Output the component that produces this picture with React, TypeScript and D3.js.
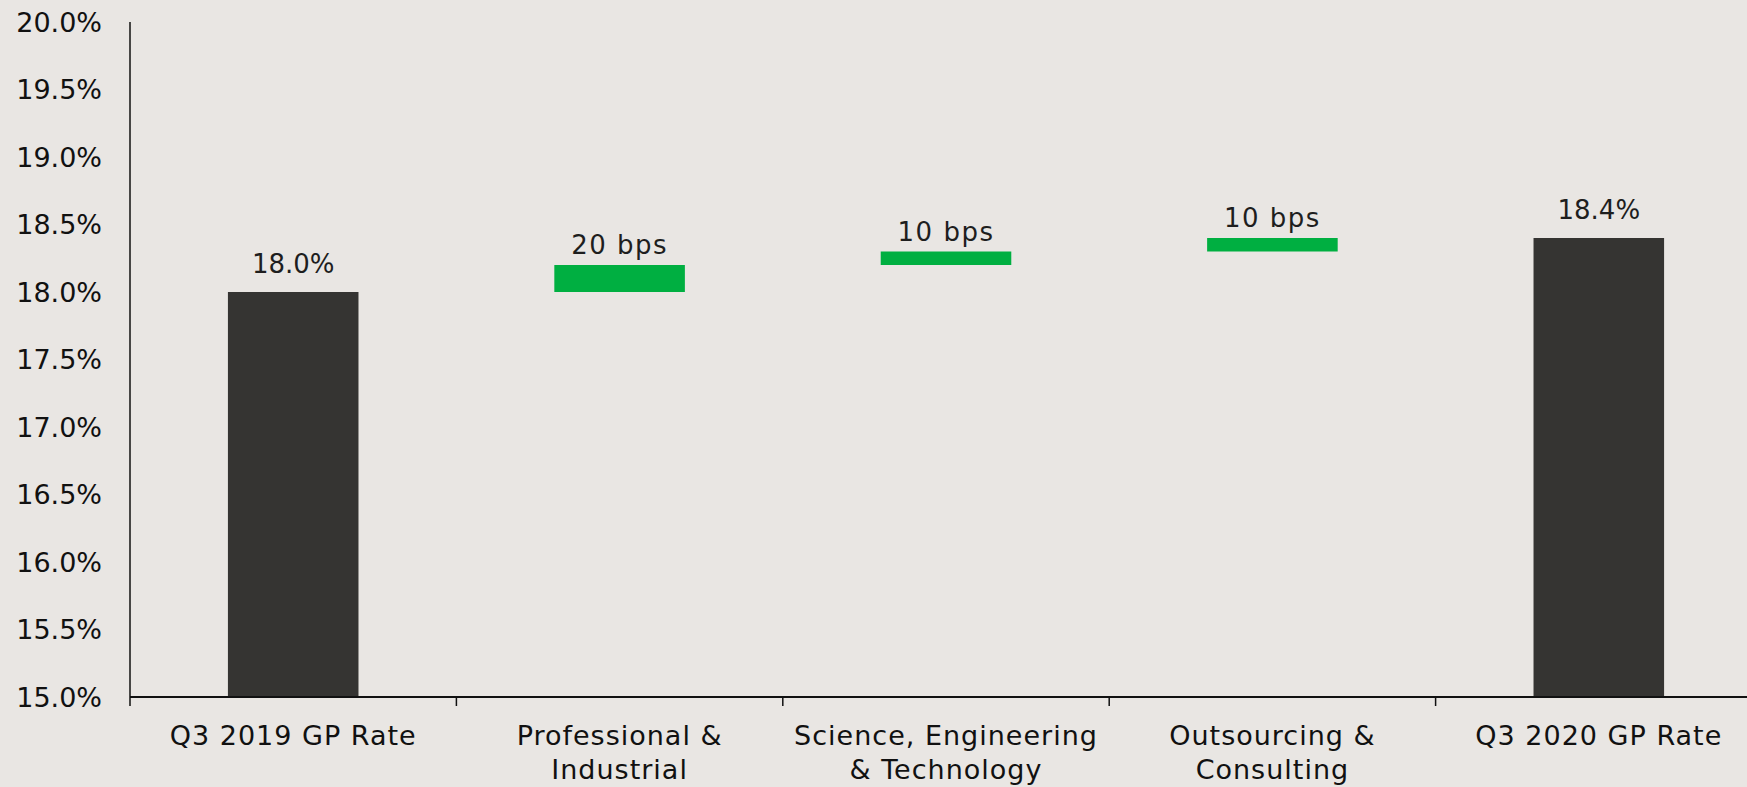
import React from "react";
import * as d3 from "d3";

const categories: string[][] = [
  ["Q3 2019 GP Rate"],
  ["Professional &", "Industrial"],
  ["Science, Engineering", "& Technology"],
  ["Outsourcing &", "Consulting"],
  ["Q3 2020 GP Rate"],
];
const values: number[] = [18.0, 0.2, 0.1, 0.1, 18.4];
const kinds: string[] = ["total", "delta", "delta", "delta", "total"];
const valueLabels: string[] = ["18.0%", "20 bps", "10 bps", "10 bps", "18.4%"];
const yTicks: number[] = [15, 15.5, 16, 16.5, 17, 17.5, 18, 18.5, 19, 19.5, 20];

const W = 1747;
const H = 787;
const FONT = "'DejaVu Sans', sans-serif";

export default function App() {
  if (typeof document !== "undefined") document.body.style.margin = "0";
  const x = d3
    .scaleBand<number>()
    .domain(values.map((_, i) => i))
    .range([130, 1762])
    .paddingInner(0.6)
    .paddingOuter(0.3);
  const y = d3.scaleLinear().domain([15, 20]).range([697, 22]);

  let run = 0;
  const bars = values.map((v, i) => {
    if (kinds[i] === "total") {
      run = v;
      return { i, lo: 15, hi: v, kind: "total" };
    }
    const lo = run;
    run = run + v;
    return { i, lo, hi: run, kind: "delta" };
  });

  const step = x.step();
  const boundaries = values.map((_, i) => 130 + i * step);

  return (
    <svg
      width={W}
      height={H}
      style={{ position: "absolute", left: 0, top: 0, background: "#E9E6E3" }}
      fontFamily={FONT}
    >
      <rect x={0} y={0} width={W} height={H} fill="#E9E6E3" />
      {bars.map((b) => (
        <rect
          key={b.i}
          x={x(b.i)!}
          y={y(b.hi)}
          width={x.bandwidth()}
          height={y(b.lo) - y(b.hi)}
          fill={b.kind === "total" ? "#353432" : "#00AF41"}
        />
      ))}
      {bars.map((b) => (
        <text
          key={"l" + b.i}
          x={x(b.i)! + x.bandwidth() / 2}
          y={y(b.hi) - (b.kind === "total" ? 19 : 11)}
          textAnchor="middle"
          fontSize={26}
          letterSpacing={b.kind === "total" ? 0 : 1.5}
          fill="#1e1e1e"
        >
          {valueLabels[b.i]}
        </text>
      ))}
      {/* y axis */}
      <line x1={130} x2={130} y1={y(20)} y2={y(15)} stroke="#111" strokeWidth={1.5} />
      {yTicks.map((t) => (
        <text
          key={"t" + t}
          x={102}
          y={y(t)}
          dy="0.36em"
          textAnchor="end"
          fontSize={27}
          fill="#111"
        >
          {t.toFixed(1) + "%"}
        </text>
      ))}
      {/* x axis */}
      <line x1={130} x2={W} y1={y(15)} y2={y(15)} stroke="#111" strokeWidth={2} />
      {boundaries.map((bx, i) => (
        <line key={"b" + i} x1={bx} x2={bx} y1={y(15)} y2={y(15) + 9} stroke="#111" strokeWidth={1.5} />
      ))}
      {categories.map((lines, i) =>
        lines.map((ln, j) => (
          <text
            key={"c" + i + "-" + j}
            x={x(i)! + x.bandwidth() / 2}
            y={745 + j * 34}
            textAnchor="middle"
            fontSize={27}
            letterSpacing={1}
            fill="#111"
          >
            {ln}
          </text>
        ))
      )}
    </svg>
  );
}
